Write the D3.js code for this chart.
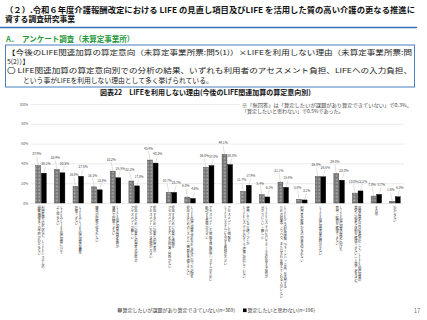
<!DOCTYPE html>
<html><head><meta charset="utf-8">
<script src="https://cdn.jsdelivr.net/npm/d3@7"></script>
<style>
html,body{margin:0;padding:0;background:#fff;}
svg{display:block;font-family:"Noto Sans CJK JP","Noto Sans",sans-serif;}
</style></head><body>
<svg id="c" width="427" height="320"></svg>
<script>
const categories = [
 "利用者個々の状況など、LIFEシステムの|閲覧機能までの手順がわからない",
 "LIFEやLIFE関連加算について|よく知らない",
 "LIFEやLIFE関連加算の意義を|理解できない",
 "職員の理解が得られない",
 "LIFE関連加算の算定要件が|複雑で理解できない",
 "提出するために必要な利用者の状態の|アセスメントが難しい",
 "提出するために必要な利用者の|アセスメントにかかる負担が大きい",
 "提出するために必要な情報を|アセスメントするための知識・技術がない",
 "LIFE関連加算で求められる形式に沿った記録を|提出するためのシステム・機器を準備できない",
 "アセスメントした情報を情報提供システムのために|転記する負担が大きい",
 "アセスメントした情報を|LIFEシステムに入力する負担が大きい",
 "使用している介護ソフトが|LIFEシステムとのデータ連携に対応していない",
 "LIFEシステムにおいてデータを提出する操作が|分かりにくい・難しい",
 "LIFEからの提供情報（フィードバック票）を活用する|ための知識やノウハウ、またはそれを教えてくれる人がいない",
 "利用者や家族からの同意を得られない",
 "LIFE関連加算の単位数が少ない",
 "LIFE関連加算の算定に向けた|費用・経費を確保できない",
 "加算の算定以外の業務が忙しく、LIFE関連加算の|算定に必要な体制を確保できない（人員不足を含む）",
 "その他",
 "わからない"
];
const seriesNames = ["算定したいが課題があり算定できていない(n=369)", "算定したいと思わない(n=196)"];
const wantButCannot = [37.9,33.9,16.8,16.3,32.2,22.2,43.4,10.7,6.0,36.0,49.1,11.7,8.4,21.1,3.8,26.8,29.8,10.0,7.0,1.6];
const notWant = [30.1,30.5,27.0,13.3,25.5,17.3,40.3,10.7,4.6,37.8,38.8,17.9,6.1,15.8,3.1,26.5,23.0,12.2,8.7,6.3];
const yTicks = [0,20,40,60,80,100];

const svg = d3.select("#c");
svg.append("rect").attr("width",427).attr("height",320).attr("fill","#fff");
const defs = svg.append("defs");
const pat = defs.append("pattern").attr("id","dots").attr("width",1.4).attr("height",1.4).attr("patternUnits","userSpaceOnUse");
pat.append("rect").attr("width",1.4).attr("height",1.4).attr("fill","#767676");
pat.append("rect").attr("width",0.7).attr("height",0.7).attr("fill","#b4b4b4");

// Header
svg.append("text").attr("x",5).attr("y",12.8).attr("font-size",7.8).attr("font-weight","bold").attr("fill","#111")
  .attr("textLength",410).attr("lengthAdjust","spacingAndGlyphs")
  .text("（２）.令和６年度介護報酬改定における LIFE の見直し項目及びLIFE を活用した質の高い介護の更なる推進に");
svg.append("text").attr("x",5).attr("y",22.3).attr("font-size",7.8).attr("font-weight","bold").attr("fill","#111")
  .text("資する調査研究事業");
svg.append("line").attr("x1",0).attr("x2",417).attr("y1",27.5).attr("y2",27.5).attr("stroke","#3b6fb6").attr("stroke-width",1.5);
svg.append("text").attr("x",6).attr("y",41.5).attr("font-size",7.5).attr("font-weight","bold").attr("fill","#1f9a3a")
  .text("A．　アンケート調査（未算定事業所）");
svg.append("rect").attr("x",5.5).attr("y",45).attr("width",409).attr("height",42).attr("fill","none").attr("stroke","#4a7fc1").attr("stroke-width",1);
const boxLines = [
  {x:7, y:54.8, t:"【今後のLIFE関連加算の算定意向（未算定事業所票:問5(1)）×LIFEを利用しない理由（未算定事業所票:問", w:405},
  {x:7, y:63.5, t:"5(2)）】"},
  {x:7, y:73, t:"〇 LIFE関連加算の算定意向別での分析の結果、いずれも利用者のアセスメント負担、LIFEへの入力負担、", w:405},
  {x:23, y:82.5, t:"という事がLIFEを利用しない理由として多く挙げられている。"}
];
boxLines.forEach(l=>{
  const t = svg.append("text").attr("x",l.x).attr("y",l.y).attr("font-size",6.8).attr("fill","#222").text(l.t);
  if(l.w) t.attr("textLength",l.w).attr("lengthAdjust","spacingAndGlyphs");
});
svg.append("text").attr("x",205.5).attr("y",94.5).attr("font-size",7).attr("font-weight","bold").attr("fill","#111")
  .attr("text-anchor","middle").text("図表22　LIFEを利用しない理由(今後のLIFE関連加算の算定意向別)");

// Chart
const x = d3.scaleBand().domain(d3.range(categories.length)).range([31.7,404.3]).paddingInner(0.436).paddingOuter(0.218);
const xi = d3.scaleBand().domain([0,1]).range([0,x.bandwidth()]).paddingInner(0.12);
const y = d3.scaleLinear().domain([0,100]).range([203,104]);

const ax = svg.append("g").attr("transform","translate(31,0)")
  .call(d3.axisLeft(y).tickValues(yTicks).tickSize(-373).tickPadding(3).tickFormat(d=>d+"%"));
ax.select(".domain").remove();
ax.selectAll(".tick line").attr("stroke","#d9d9d9").attr("stroke-width",0.5);
ax.selectAll(".tick text").attr("font-size",3.3).attr("fill","#555").attr("font-family","Noto Sans CJK JP");

// note
const noteG = svg.append("g");
noteG.append("rect").attr("x",240).attr("y",100).attr("width",176).attr("height",14).attr("fill","#fff");
noteG.append("text").attr("x",242).attr("y",106.5).attr("font-size",5).attr("fill","#444")
  .attr("textLength",170).attr("lengthAdjust","spacingAndGlyphs")
  .text("※「無回答」は「算定したいが課題があり算定できていない」で0.3%、");
noteG.append("text").attr("x",242).attr("y",113).attr("font-size",5).attr("fill","#444")
  .text("「算定したいと思わない」で0.5%であった。");

const series = [wantButCannot, notWant];
const fills = ["url(#dots)","#000"];
series.forEach((vals,s)=>{
  const g = svg.append("g");
  g.selectAll("rect").data(vals).join("rect")
    .attr("x",(d,i)=>x(i)+xi(s)).attr("width",xi.bandwidth())
    .attr("y",d=>y(d)).attr("height",d=>y(0)-y(d))
    .attr("fill",fills[s]).attr("stroke",s===0?"#3a3a3a":"#000").attr("stroke-width",0.4);
  const dx = s===0 ? -1.5 : 2;
  const off = s===0 ? 11 : 9;
  g.selectAll("line").data(vals).join("line")
    .attr("x1",(d,i)=>x(i)+xi(s)+xi.bandwidth()/2+dx).attr("x2",(d,i)=>x(i)+xi(s)+xi.bandwidth()/2)
    .attr("y1",d=>y(d)-off+2).attr("y2",d=>y(d)-0.5)
    .attr("stroke","#9a9a9a").attr("stroke-width",0.3);
  g.selectAll("text").data(vals).join("text")
    .attr("x",(d,i)=>x(i)+xi(s)+xi.bandwidth()/2+dx).attr("y",d=>y(d)-off+1)
    .attr("text-anchor","middle").attr("font-size",3.2).attr("fill","#444")
    .text(d=>d.toFixed(1)+"%");
});

// category labels: vertical text, one text per line, length set explicitly
const fs = 3.3, lh = 3.7;
const lenOf = s => Array.from(s).reduce((a,ch)=>a + (/[\x20-\x7e]/.test(ch) ? 0.72 : 1.0)*fs, 0);
categories.forEach((c,i)=>{
  const lines = c.split("|");
  const cx = x(i)+x.bandwidth()/2;
  const n = lines.length;
  lines.forEach((ln,k)=>{
    svg.append("text")
      .attr("x", cx + (n-1)/2*lh - k*lh)
      .attr("y", 206)
      .attr("font-size",fs).attr("fill","#333")
      .style("writing-mode","vertical-rl")
      .style("text-orientation","upright")
      .attr("textLength", lenOf(ln)).attr("lengthAdjust","spacingAndGlyphs")
      .text(ln);
  });
});

// legend
const lg = svg.append("g");
lg.append("rect").attr("x",118).attr("y",308.5).attr("width",3.6).attr("height",3.6).attr("fill","url(#dots)").attr("stroke","#3a3a3a").attr("stroke-width",0.3);
lg.append("text").attr("x",122.5).attr("y",312.3).attr("font-size",5).attr("fill","#333").text(seriesNames[0]);
lg.append("rect").attr("x",243).attr("y",308.5).attr("width",3.6).attr("height",3.6).attr("fill","#000");
lg.append("text").attr("x",247.5).attr("y",312.3).attr("font-size",5).attr("fill","#333").text(seriesNames[1]);
svg.append("text").attr("x",417).attr("y",313).attr("font-size",6).attr("fill","#777").attr("text-anchor","middle").text("17");
</script>
</body></html>
